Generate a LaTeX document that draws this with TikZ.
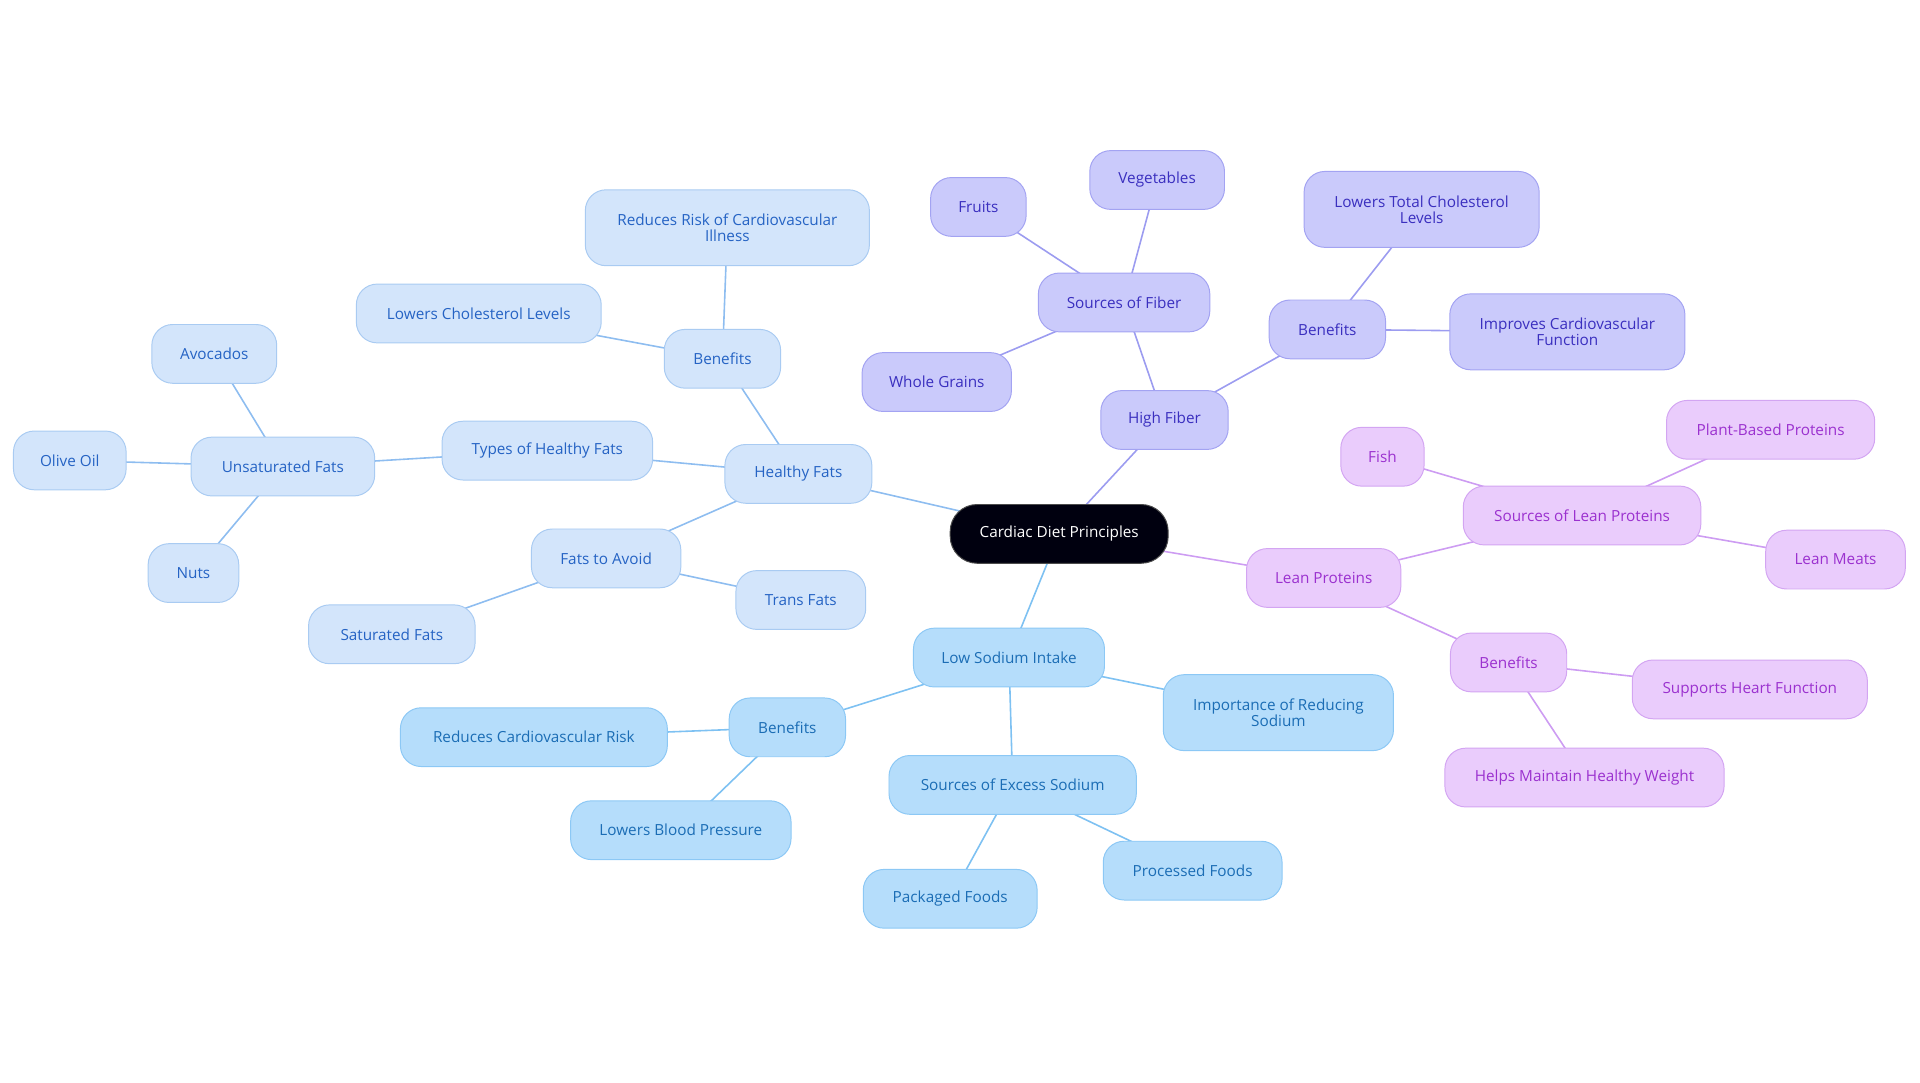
\documentclass[tikz,border=0pt]{standalone}
\usepackage{fontspec}
\setmainfont{Open Sans}
\usetikzlibrary{backgrounds}
\definecolor{hfF}{HTML}{D3E5FB}\definecolor{hfD}{HTML}{A9CBF2}\definecolor{hfT}{HTML}{2563C4}\definecolor{hfL}{HTML}{8EBDF0}
\definecolor{lsF}{HTML}{B5DDFB}\definecolor{lsD}{HTML}{8CC8F5}\definecolor{lsT}{HTML}{1B6DB5}\definecolor{lsL}{HTML}{7EC1F2}
\definecolor{fbF}{HTML}{CACAFB}\definecolor{fbD}{HTML}{A3A3F2}\definecolor{fbT}{HTML}{3A2FBF}\definecolor{fbL}{HTML}{9C9CF0}
\definecolor{lpF}{HTML}{EACCFC}\definecolor{lpD}{HTML}{D3A5F2}\definecolor{lpT}{HTML}{9B31CF}\definecolor{lpL}{HTML}{CD9CF2}
\tikzset{
 nd/.style={rounded corners=17pt,minimum height=48pt,inner sep=0pt,align=center,font=\fontsize{12.5}{13}\selectfont,line width=0.8pt},
 hf/.style={nd,fill=hfF,draw=hfD,text=hfT},
 ls/.style={nd,fill=lsF,draw=lsD,text=lsT},
 fb/.style={nd,fill=fbF,draw=fbD,text=fbT},
 lp/.style={nd,fill=lpF,draw=lpD,text=lpT},
 tall/.style={minimum height=62pt},
 e/.style={line width=1.3pt}
}
\begin{document}
\begin{tikzpicture}[x=1pt,y=-1pt]
\useasboundingbox (0,0) rectangle (1568,884);
\node[nd,fill=black!90!blue!60!black,draw=black!70,text=white,minimum width=178pt,rounded corners=22pt] (c) at (865,436) {Cardiac Diet Principles};
% healthy fats
\node[hf,minimum width=120pt] (hf) at (652,387) {Healthy Fats};
\node[hf,minimum width=95pt] (hfb) at (590,293) {Benefits};
\node[hf,tall,minimum width=232pt] (rr) at (594,186) {Reduces Risk of Cardiovascular\\Illness};
\node[hf,minimum width=200pt] (lcl) at (391,256) {Lowers Cholesterol Levels};
\node[hf,minimum width=172pt] (thf) at (447,368) {Types of Healthy Fats};
\node[hf,minimum width=150pt] (uf) at (231,381) {Unsaturated Fats};
\node[hf,minimum width=102pt] (av) at (175,289) {Avocados};
\node[hf,minimum width=92pt] (oo) at (57,376) {Olive Oil};
\node[hf,minimum width=74pt] (nu) at (158,468) {Nuts};
\node[hf,minimum width=122pt] (fa) at (495,456) {Fats to Avoid};
\node[hf,minimum width=136pt] (sf) at (320,518) {Saturated Fats};
\node[hf,minimum width=106pt] (tf) at (654,490) {Trans Fats};
% fiber
\node[fb,minimum width=104pt] (fi) at (951,343) {High Fiber};
\node[fb,minimum width=140pt] (sof) at (918,247) {Sources of Fiber};
\node[fb,minimum width=78pt] (fr) at (799,169) {Fruits};
\node[fb,minimum width=110pt] (ve) at (945,147) {Vegetables};
\node[fb,minimum width=122pt] (wg) at (765,312) {Whole Grains};
\node[fb,minimum width=95pt] (fib) at (1084,269) {Benefits};
\node[fb,tall,minimum width=192pt] (ltc) at (1161,171) {Lowers Total Cholesterol\\Levels};
\node[fb,tall,minimum width=192pt] (icf) at (1280,271) {Improves Cardiovascular\\Function};
% lean proteins
\node[lp,minimum width=126pt] (lp) at (1081,472) {Lean Proteins};
\node[lp,minimum width=194pt] (slp) at (1292,421) {Sources of Lean Proteins};
\node[lp,minimum width=68pt] (fish) at (1129,373) {Fish};
\node[lp,minimum width=170pt] (pbp) at (1446,351) {Plant-Based Proteins};
\node[lp,minimum width=114pt] (lm) at (1499,457) {Lean Meats};
\node[lp,minimum width=95pt] (lpb) at (1232,541) {Benefits};
\node[lp,minimum width=192pt] (shf) at (1429,563) {Supports Heart Function};
\node[lp,minimum width=228pt] (hmw) at (1294,635) {Helps Maintain Healthy Weight};
% sodium
\node[ls,minimum width=156pt] (ls) at (824,537) {Low Sodium Intake};
\node[ls,tall,minimum width=188pt] (irs) at (1044,582) {Importance of Reducing\\Sodium};
\node[ls,minimum width=95pt] (lsb) at (643,594) {Benefits};
\node[ls,minimum width=218pt] (rcr) at (436,602) {Reduces Cardiovascular Risk};
\node[ls,minimum width=180pt] (lbp) at (556,678) {Lowers Blood Pressure};
\node[ls,minimum width=202pt] (ses) at (827,641) {Sources of Excess Sodium};
\node[ls,minimum width=142pt] (pf) at (776,734) {Packaged Foods};
\node[ls,minimum width=146pt] (prf) at (974,711) {Processed Foods};
\begin{scope}[on background layer]
\draw[e,hfL] (c.center)--(hf.center) (hf.center)--(hfb.center) (hfb.center)--(rr.center) (hfb.center)--(lcl.center)
 (hf.center)--(thf.center) (thf.center)--(uf.center) (uf.center)--(av.center) (uf.center)--(oo.center) (uf.center)--(nu.center)
 (hf.center)--(fa.center) (fa.center)--(sf.center) (fa.center)--(tf.center);
\draw[e,fbL] (c.center)--(fi.center) (fi.center)--(sof.center) (sof.center)--(fr.center) (sof.center)--(ve.center) (sof.center)--(wg.center)
 (fi.center)--(fib.center) (fib.center)--(ltc.center) (fib.center)--(icf.center);
\draw[e,lpL] (c.center)--(lp.center) (lp.center)--(slp.center) (slp.center)--(fish.center) (slp.center)--(pbp.center) (slp.center)--(lm.center)
 (lp.center)--(lpb.center) (lpb.center)--(shf.center) (lpb.center)--(hmw.center);
\draw[e,lsL] (c.center)--(ls.center) (ls.center)--(irs.center) (ls.center)--(lsb.center) (lsb.center)--(rcr.center) (lsb.center)--(lbp.center)
 (ls.center)--(ses.center) (ses.center)--(pf.center) (ses.center)--(prf.center);
\end{scope}
\end{tikzpicture}
\end{document}
